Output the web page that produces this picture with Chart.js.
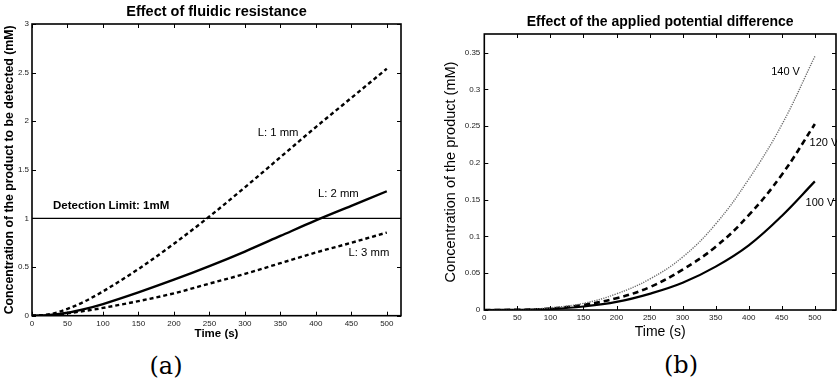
<!DOCTYPE html>
<html lang="en">
<head>
<meta charset="UTF-8">
<title>Product concentration over time</title>
<script src="https://cdn.jsdelivr.net/npm/chart.js"></script>
<style>
  body {
    margin: 0;
    background: #fff;
    width: 837px;
    height: 382px;
    position: relative;
    overflow: hidden;
  }
  canvas { position: absolute; top: 0; }
  #chartA { left: 0; }
  #chartB { left: 420px; }
  .tag {
    position: absolute;
    font-family: "DejaVu Serif", "Liberation Serif", serif;
    font-size: 24px;
    color: #000;
    transform: translate(-50%, -50%);
  }
</style>
</head>
<body>
<canvas id="chartA" width="420" height="345"></canvas>
<canvas id="chartB" width="417" height="345"></canvas>
<div class="tag" style="left:166px; top:366px;">(a)</div>
<div class="tag" style="left:681px; top:365px;">(b)</div>

<script>
// (a) channel length
const timeA = [0, 25, 50, 75, 100, 150, 200, 250, 300, 350, 400, 450, 500];
const len1mm = [0, 0.015, 0.07, 0.15, 0.25, 0.48, 0.74, 1.02, 1.32, 1.63, 1.94, 2.24, 2.54];
const len2mm = [0, 0.008, 0.03, 0.07, 0.12, 0.24, 0.37, 0.51, 0.66, 0.82, 0.98, 1.13, 1.28];
const len3mm = [0, 0.006, 0.025, 0.05, 0.08, 0.15, 0.23, 0.33, 0.43, 0.54, 0.65, 0.75, 0.855];
const detectionLimit = 1;

// (b) applied voltage
const timeB = [0, 50, 100, 150, 200, 250, 300, 350, 400, 450, 500];
const volt100 = [0, 0.0002, 0.0014, 0.0048, 0.011, 0.022, 0.037, 0.059, 0.088, 0.128, 0.175];
const volt120 = [0, 0.0002, 0.002, 0.007, 0.016, 0.031, 0.055, 0.086, 0.129, 0.184, 0.253];
const volt140 = [0, 0.0003, 0.003, 0.009, 0.022, 0.042, 0.072, 0.117, 0.178, 0.252, 0.345];

const xTicks = [0, 50, 100, 150, 200, 250, 300, 350, 400, 450, 500];
const yTicksA = [0, 0.5, 1, 1.5, 2, 2.5, 3];
const yTicksB = [0, 0.05, 0.1, 0.15, 0.2, 0.25, 0.3, 0.35];

Chart.defaults.font.family = '"Liberation Sans", Arial, Helvetica, sans-serif';
Chart.defaults.color = '#222';

const pts = (xs, ys) => xs.map((x, i) => ({ x: x, y: ys[i] }));
const sans = (size, bold) => (bold ? 'bold ' : '') + size + 'px "Liberation Sans", Arial, sans-serif';

// box, inward ticks on every side, title and curve labels
const frame = {
  id: 'frame',
  afterDatasetsDraw(chart, args, opts) {
    const { ctx, chartArea: a, scales } = chart;
    const sx = scales.x, sy = scales.y;
    ctx.save();
    ctx.strokeStyle = '#000';
    ctx.lineWidth = 1;
    ctx.beginPath();
    sx.ticks.forEach(t => {
      const px = Math.round(sx.getPixelForValue(t.value)) + 0.5;
      ctx.moveTo(px, a.bottom); ctx.lineTo(px, a.bottom - 4);
      ctx.moveTo(px, a.top); ctx.lineTo(px, a.top + 4);
    });
    sy.ticks.forEach(t => {
      const py = Math.round(sy.getPixelForValue(t.value)) + 0.5;
      ctx.moveTo(a.left, py); ctx.lineTo(a.left + 4, py);
      ctx.moveTo(a.right, py); ctx.lineTo(a.right - 4, py);
    });
    ctx.stroke();
    ctx.lineWidth = 1.6;
    ctx.strokeRect(a.left, a.top, a.right - a.left, a.bottom - a.top);

    ctx.fillStyle = '#000';
    ctx.textBaseline = 'middle';
    ctx.textAlign = 'center';
    ctx.font = opts.titleFont;
    ctx.fillText(opts.title, (a.left + a.right) / 2, opts.titleY);

    ctx.textAlign = 'left';
    opts.labels.forEach(l => {
      ctx.font = l.font;
      ctx.fillText(l.text, sx.getPixelForValue(l.x), sy.getPixelForValue(l.y));
    });
    ctx.restore();
  }
};

function line(data, width, dash, color, smooth) {
  const ds = {
    data: data,
    borderColor: color || '#000',
    borderWidth: width,
    borderDash: dash || [],
    pointRadius: 0,
    fill: false
  };
  if (smooth) ds.tension = 0.4;
  else ds.cubicInterpolationMode = 'monotone';
  return ds;
}

function axes(opts) {
  return {
    x: {
      type: 'linear',
      min: 0,
      max: opts.xMax,
      afterBuildTicks: s => { s.ticks = xTicks.map(v => ({ value: v })); },
      ticks: { font: { size: 8 }, padding: opts.xPad, maxRotation: 0, autoSkip: false },
      grid: { display: false, drawTicks: false },
      border: { display: false },
      title: {
        display: true, text: 'Time (s)', color: '#000',
        font: opts.xTitleFont, padding: { top: 0, bottom: opts.xTitlePad }
      },
      afterFit: s => { s.height = opts.xHeight; }
    },
    y: {
      type: 'linear',
      min: 0,
      max: opts.yMax,
      afterBuildTicks: s => { s.ticks = opts.yTicks.map(v => ({ value: v })); },
      ticks: {
        font: { size: 8 }, padding: opts.yPad, autoSkip: false,
        callback: v => String(Math.round(v * 100) / 100)
      },
      grid: { display: false, drawTicks: false },
      border: { display: false },
      title: {
        display: true, text: opts.yTitle, color: '#000',
        font: opts.yTitleFont, padding: { top: opts.yTitlePad, bottom: 0 }
      },
      afterFit: s => { s.width = opts.yWidth; }
    }
  };
}

const common = {
  responsive: false,
  animation: false,
  events: [],
  plugins: { legend: { display: false }, tooltip: { enabled: false } }
};

new Chart(document.getElementById('chartA'), {
  type: 'line',
  data: {
    datasets: [
      line(pts([0, 520], [detectionLimit, detectionLimit]), 1.3),
      line(pts(timeA, len1mm), 2.4, [4, 3]),
      line(pts(timeA, len2mm), 2.4),
      line(pts(timeA, len3mm), 2.4, [4, 3])
    ]
  },
  options: Object.assign({}, common, {
    layout: { padding: { top: 24, right: 19, bottom: 0, left: 0 } },
    scales: axes({
      xMax: 520, yMax: 3, yTicks: yTicksA,
      xPad: 3, yPad: 3, xHeight: 29.3, yWidth: 32,
      xTitleFont: { size: 11.5, weight: 'bold' }, xTitlePad: 4,
      yTitle: 'Concentration of the product to be detected (mM)',
      yTitleFont: { size: 12.3, weight: 'bold' }, yTitlePad: 2.6
    }),
    plugins: Object.assign({}, common.plugins, {
      frame: {
        title: 'Effect of fluidic resistance',
        titleFont: sans(14.5, true),
        titleY: 12,
        labels: [
          { text: 'Detection Limit: 1mM', x: 29.6, y: 1.13, font: sans(11.5, true) },
          { text: 'L: 1 mm', x: 318, y: 1.885, font: sans(11.3) },
          { text: 'L: 2 mm', x: 403, y: 1.255, font: sans(11.3) },
          { text: 'L: 3 mm', x: 446, y: 0.647, font: sans(11.3) }
        ]
      }
    })
  }),
  plugins: [frame]
});

new Chart(document.getElementById('chartB'), {
  type: 'line',
  data: {
    datasets: [
      line(pts(timeB, volt140), 1.4, [1.2, 1.2], '#6a6a6a', true),
      line(pts(timeB, volt120), 2.6, [6, 4], null, true),
      line(pts(timeB, volt100), 2.2, null, null, true)
    ]
  },
  options: Object.assign({}, common, {
    layout: { padding: { top: 34, right: 1, bottom: 0, left: 0 } },
    scales: axes({
      xMax: 532, yMax: 0.3755, yTicks: yTicksB,
      xPad: 3, yPad: 4, xHeight: 35, yWidth: 64.3,
      xTitleFont: { size: 14 }, xTitlePad: 4,
      yTitle: 'Concentration of the product (mM)',
      yTitleFont: { size: 14.5 }, yTitlePad: 22.3
    }),
    plugins: Object.assign({}, common.plugins, {
      frame: {
        title: 'Effect of the applied potential difference',
        titleFont: sans(14, true),
        titleY: 22,
        labels: [
          { text: '140 V', x: 434, y: 0.3234, font: sans(11) },
          { text: '120 V', x: 492, y: 0.2276, font: sans(11) },
          { text: '100 V', x: 486, y: 0.145, font: sans(11) }
        ]
      }
    })
  }),
  plugins: [frame]
});
</script>
</body>
</html>
